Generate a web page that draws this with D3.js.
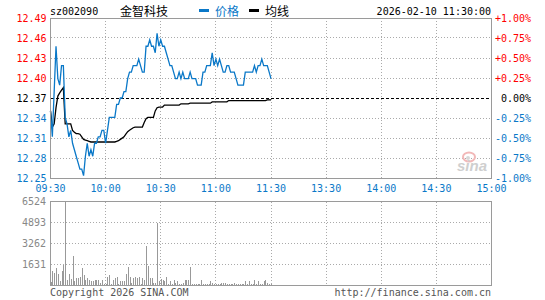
<!DOCTYPE html>
<html>
<head>
<meta charset="utf-8">
<script src="https://cdn.jsdelivr.net/npm/d3@7.9.0/dist/d3.min.js"></script>
<style>
  body { margin: 0; background: #fff; }
  svg { display: block; }
  text { font-family: "DejaVu Sans Mono", "Liberation Mono", monospace; font-size: 10px; }
</style>
</head>
<body>
<svg id="chart" width="545" height="300"></svg>
<script>
const symbol = 'sz002090';
const stockName = '金智科技';
const stamp = '2026-02-10 11:30:00';
const preClose = 12.37;

const timeLabels = ['09:30', '10:00', '10:30', '11:00', '11:30', '13:30', '14:00', '14:30', '15:00'];
const priceLabels = ['12.49', '12.46', '12.43', '12.40', '12.37', '12.34', '12.31', '12.28', '12.25'];
const pctLabels = ['+1.00%', '+0.75%', '+0.50%', '+0.25%', '0.00%', '-0.25%', '-0.50%', '-0.75%', '-1.00%'];
const volLabels = [6524, 4893, 3262, 1631];

// one value per minute, 09:30 .. 11:30
const prices = [
  12.35, 12.31, 12.38, 12.45, 12.40, 12.39, 12.42, 12.42, 12.34, 12.33,
  12.31, 12.32, 12.30, 12.29, 12.28, 12.27, 12.26, 12.26, 12.25, 12.28,
  12.30, 12.28, 12.29, 12.28, 12.30, 12.30, 12.31, 12.31, 12.32, 12.32,
  12.30, 12.32, 12.34, 12.34, 12.34, 12.34, 12.36, 12.36, 12.37, 12.37,
  12.38, 12.38, 12.40, 12.41, 12.41, 12.42, 12.42, 12.42, 12.43, 12.42,
  12.41, 12.41, 12.45, 12.45, 12.46, 12.45, 12.45, 12.44, 12.47, 12.45,
  12.46, 12.45, 12.45, 12.44, 12.43, 12.42, 12.42, 12.41, 12.40, 12.40,
  12.41, 12.40, 12.41, 12.40, 12.40, 12.40, 12.41, 12.40, 12.40, 12.40,
  12.39, 12.39, 12.39, 12.41, 12.41, 12.42, 12.42, 12.42, 12.44, 12.42,
  12.43, 12.42, 12.43, 12.42, 12.41, 12.41, 12.42, 12.42, 12.41, 12.41,
  12.41, 12.40, 12.39, 12.39, 12.39, 12.39, 12.41, 12.41, 12.41, 12.41,
  12.41, 12.42, 12.41, 12.42, 12.42, 12.43, 12.42, 12.42, 12.42, 12.41, 12.40
];

const avgPrices = [
  12.350, 12.325, 12.330, 12.355, 12.373, 12.378, 12.382, 12.386, 12.330, 12.330,
  12.330, 12.330, 12.320, 12.317, 12.315, 12.315, 12.314, 12.310, 12.306, 12.305,
  12.304, 12.303, 12.302, 12.302, 12.302, 12.302, 12.302, 12.302, 12.302, 12.302,
  12.302, 12.302, 12.302, 12.302, 12.302, 12.302, 12.303, 12.304, 12.306, 12.308,
  12.310, 12.314, 12.318, 12.320, 12.322, 12.324, 12.325, 12.325, 12.325, 12.325,
  12.325, 12.332, 12.338, 12.340, 12.340, 12.340, 12.340, 12.350, 12.355, 12.356,
  12.356, 12.356, 12.359, 12.359, 12.359, 12.359, 12.359, 12.359, 12.359, 12.359,
  12.359, 12.361, 12.361, 12.361, 12.361, 12.361, 12.362, 12.362, 12.362, 12.362,
  12.362, 12.362, 12.362, 12.362, 12.362, 12.362, 12.362, 12.362, 12.364, 12.364,
  12.364, 12.364, 12.364, 12.364, 12.364, 12.364, 12.364, 12.366, 12.366, 12.366,
  12.366, 12.366, 12.366, 12.366, 12.366, 12.366, 12.366, 12.366, 12.366, 12.366,
  12.366, 12.366, 12.366, 12.366, 12.366, 12.366, 12.366, 12.366, 12.367, 12.367, 12.367
];

const volumes = [
  259, 1100, 1000, 1380, 907, 330, 1100, 1554, 6524, 389,
  855, 518, 2253, 311, 544, 544, 699, 1321, 777, 466,
  544, 466, 311, 311, 389, 389, 466, 233, 389, 155,
  155, 699, 777, 78, 389, 544, 622, 155, 311, 311,
  311, 855, 1399, 622, 233, 544, 699, 544, 622, 155,
  544, 466, 3030, 1476, 544, 544, 233, 233, 4893, 311,
  518, 389, 311, 622, 155, 311, 155, 389, 233, 311,
  155, 155, 233, 466, 389, 466, 1399, 155, 78, 78,
  155, 155, 466, 78, 78, 78, 78, 311, 233, 78,
  155, 78, 78, 233, 233, 233, 78, 155, 78, 78,
  233, 78, 78, 78, 78, 78, 311, 78, 311, 78,
  78, 466, 78, 311, 78, 155, 311, 389, 233, 155, 130
];

const blue = '#0a78c8';
const red = '#ff0000';
const gridColor = '#aaaaaa';
const frameColor = '#9a9a9a';

const svg = d3.select('#chart');

const plotL = 50.5, plotR = 491.5;
const plotT = 18, plotB = 178;
const volT = 201.5, volB = 285.5;

const x = d3.scaleLinear().domain([0, 240]).range([plotL, plotR]);
const y = d3.scaleLinear().domain([preClose * 0.99, preClose * 1.01]).range([plotB, plotT]);
const yv = d3.scaleLinear().domain([0, volLabels[0]]).range([volB, volT]);

const crisp = (v) => Math.round(v - 0.5) + 0.5;

// header
svg.append('text').attr('x', 50).attr('y', 15).attr('fill', '#000').text(symbol);
svg.append('text').attr('x', 120).attr('y', 15.5)
  .style('font-family', '"Noto Sans CJK SC", sans-serif').style('font-size', '12px')
  .attr('fill', '#000').text(stockName);
svg.append('rect').attr('x', 199).attr('y', 9).attr('width', 10).attr('height', 3).attr('fill', blue);
svg.append('text').attr('x', 215).attr('y', 15.5)
  .style('font-family', '"Noto Sans CJK SC", sans-serif').style('font-size', '12px')
  .attr('fill', blue).text('价格');
svg.append('rect').attr('x', 249).attr('y', 9).attr('width', 10).attr('height', 3).attr('fill', '#000');
svg.append('text').attr('x', 265).attr('y', 15.5)
  .style('font-family', '"Noto Sans CJK SC", sans-serif').style('font-size', '12px')
  .attr('fill', '#000').text('均线');
svg.append('text').attr('x', 491).attr('y', 15).attr('text-anchor', 'end').attr('fill', '#000').text(stamp);

// grid, price panel
const grid = svg.append('g').attr('stroke', gridColor).attr('stroke-dasharray', '1,2').attr('shape-rendering', 'crispEdges');
pctLabels.forEach((p, i) => {
  if (i === 0 || i === 4 || i === pctLabels.length - 1) return;
  const yy = crisp(y(preClose * (1 + (4 - i) * 0.0025)));
  grid.append('line').attr('x1', plotL).attr('x2', plotR).attr('y1', yy).attr('y2', yy);
});
timeLabels.forEach((t, i) => {
  if (i === 0 || i === timeLabels.length - 1) return;
  const xx = crisp(x(i * 30));
  grid.append('line').attr('x1', xx).attr('x2', xx).attr('y1', plotT).attr('y2', plotB);
  grid.append('line').attr('x1', xx).attr('x2', xx).attr('y1', volT).attr('y2', volB);
});
volLabels.slice(1).forEach((v) => {
  const yy = crisp(yv(v));
  grid.append('line').attr('x1', plotL).attr('x2', plotR).attr('y1', yy).attr('y2', yy);
});

// preclose line
svg.append('line')
  .attr('x1', plotL).attr('x2', plotR)
  .attr('y1', crisp(y(preClose))).attr('y2', crisp(y(preClose)))
  .attr('stroke', '#000').attr('stroke-dasharray', '3,2').attr('shape-rendering', 'crispEdges');

// watermark
const wm = svg.append('g');
wm.append('ellipse').attr('cx', 469).attr('cy', 157).attr('rx', 6).attr('ry', 4.5)
  .attr('fill', 'none').attr('stroke', '#f2b8b8').attr('stroke-width', 2);
wm.append('circle').attr('cx', 468).attr('cy', 158).attr('r', 2).attr('fill', '#d8d8d8');
wm.append('text').attr('x', 457).attr('y', 171)
  .style('font-family', '"Liberation Sans", sans-serif').style('font-size', '15px')
  .style('font-weight', 'bold').style('font-style', 'italic')
  .attr('fill', '#cfcfcf').text('sina');

// volume bars
svg.append('g').attr('fill', '#999').attr('shape-rendering', 'crispEdges')
  .selectAll('rect').data(volumes).join('rect')
  .attr('x', (d, i) => Math.round(x(i)))
  .attr('y', (d) => yv(d))
  .attr('width', 1)
  .attr('height', (d) => volB - yv(d));

// avg + price lines
const minuteLine = d3.line().x((d, i) => x(i)).y((d) => y(d));
svg.append('path').attr('d', minuteLine(avgPrices))
  .attr('fill', 'none').attr('stroke', '#000').attr('stroke-width', 1.3);
svg.append('path').attr('d', minuteLine(prices))
  .attr('fill', 'none').attr('stroke', blue).attr('stroke-width', 1.3);

// frames
svg.append('rect').attr('x', plotL).attr('y', plotT + 0.5).attr('width', plotR - plotL).attr('height', plotB - plotT)
  .attr('fill', 'none').attr('stroke', frameColor).attr('shape-rendering', 'crispEdges');
svg.append('rect').attr('x', plotL).attr('y', volT).attr('width', plotR - plotL).attr('height', volB - volT)
  .attr('fill', 'none').attr('stroke', frameColor).attr('shape-rendering', 'crispEdges');

// price axis labels
priceLabels.forEach((p, i) => {
  const yy = y(preClose * (1 + (4 - i) * 0.0025));
  svg.append('text').attr('x', 46.5).attr('y', yy + 3.5).attr('text-anchor', 'end')
    .attr('fill', i < 4 ? red : i === 4 ? '#000' : blue).text(p);
});
pctLabels.forEach((p, i) => {
  const yy = y(preClose * (1 + (4 - i) * 0.0025));
  svg.append('text').attr('x', 531).attr('y', yy + 3.5).attr('text-anchor', 'end')
    .attr('fill', i < 4 ? red : i === 4 ? '#000' : blue).text(p);
});

// time labels
timeLabels.forEach((t, i) => {
  svg.append('text').attr('x', x(i * 30)).attr('y', 192).attr('text-anchor', 'middle')
    .attr('fill', blue).text(t);
});

// volume labels
volLabels.forEach((v) => {
  svg.append('text').attr('x', 46).attr('y', yv(v) + 3.5).attr('text-anchor', 'end')
    .attr('fill', '#888').text(v);
});

// footer
svg.append('text').attr('x', 50).attr('y', 296).attr('fill', '#555').text('Copyright 2026 SINA.COM');
svg.append('text').attr('x', 491).attr('y', 296).attr('text-anchor', 'end').attr('fill', '#555').text('http://finance.sina.com.cn');
</script>
</body>
</html>
